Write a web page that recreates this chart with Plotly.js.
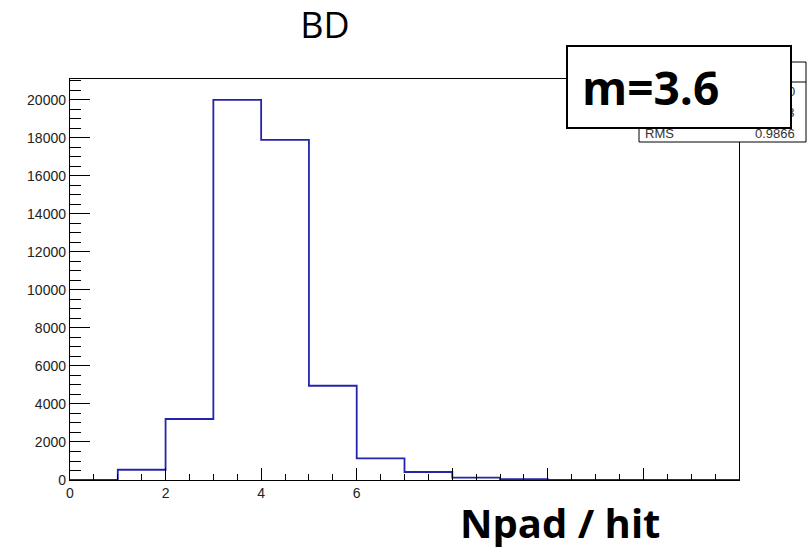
<!DOCTYPE html>
<html>
<head>
<meta charset="utf-8">
<script src="https://cdn.plot.ly/plotly-3.0.1.min.js"></script>
<style>html,body{margin:0;padding:0;background:#fff;}#chart{width:809px;height:554px;}</style>
</head>
<body>
<div id="chart"></div>
<script>
// Histogram data (bin lower edges, bin width 1)
const binLow = [0, 1, 2, 3, 4, 5, 6, 7, 8, 9, 10, 11, 12, 13];
const counts = [0, 540, 3210, 20000, 17900, 4960, 1140, 420, 120, 40, 0, 0, 0, 0];
const xTickVals = [0, 2, 4, 6, 8, 10, 12, 14];
const xTickText = ['0', '2', '4', '6', '', '', '', ''];
const yTickVals = [0, 2000, 4000, 6000, 8000, 10000, 12000, 14000, 16000, 18000, 20000];
const yTickText = ['0', '2000', '4000', '6000', '8000', '10000', '12000', '14000', '16000', '18000', '20000'];
const statValues = ['48330', '3.583', '0.9866'];
const rmsLabel = 'RMS';
const histTitle = 'BD';
const xTitle = 'Npad / hit';
const meanNote = 'm=3.6';

const xs = binLow.concat([binLow[binLow.length - 1] + 1]);
const ys = counts.concat([counts[counts.length - 1]]);

// pixel -> paper helpers (plot area: x 70..739, y 79..480)
const L = 70, R = 739, T = 79, B = 480;
const px = p => (p - L) / (R - L);
const py = p => (B - p) / (B - T);

const trace = {
  x: xs, y: ys, type: 'scatter', mode: 'lines',
  line: {shape: 'hv', color: '#2424aa', width: 1.8},
  hoverinfo: 'skip', showlegend: false
};

const statFont = {family: 'Liberation Sans', size: 13, color: '#333'};
const annotations = [];
// stats box texts (mostly hidden behind the m= box)
const rowY = [92, 112, 133];
for (let i = 0; i < statValues.length; i++) {
  annotations.push({xref: 'paper', yref: 'paper', x: px(797), y: py(rowY[i]), xanchor: 'right', yanchor: 'middle',
    text: statValues[i], showarrow: false, font: statFont});
}
annotations.push({xref: 'paper', yref: 'paper', x: px(643), y: py(133), xanchor: 'left', yanchor: 'middle',
  text: rmsLabel, showarrow: false, font: statFont});
// m= box
annotations.push({xref: 'paper', yref: 'paper', x: px(679), y: py(87), xanchor: 'center', yanchor: 'middle',
  text: '&nbsp;', showarrow: false, width: 222, height: 80, bgcolor: '#fff', bordercolor: '#000', borderwidth: 2, borderpad: 0});
annotations.push({xref: 'paper', yref: 'paper', x: px(580), y: py(87), xanchor: 'left', yanchor: 'middle',
  text: '<b>' + meanNote + '</b>', showarrow: false, font: {family: 'Open Sans', size: 46, color: '#000'}});
// x axis title
annotations.push({xref: 'paper', yref: 'paper', x: px(560), y: py(522), xanchor: 'center', yanchor: 'middle',
  text: '<b>' + xTitle + '</b>', showarrow: false, font: {family: 'Open Sans', size: 40, color: '#000'}});

const layout = {
  width: 809, height: 554,
  margin: {l: L, r: 809 - R, t: T, b: 554 - B, pad: 0},
  paper_bgcolor: '#fff', plot_bgcolor: '#fff',
  title: {text: histTitle, x: 325 / 809, xref: 'container', xanchor: 'center', y: 1 - 25 / 554, yref: 'container', yanchor: 'middle',
    font: {family: 'Open Sans', size: 36, color: '#000'}},
  xaxis: {
    range: [0, 14], tickmode: 'array', tickvals: xTickVals, ticktext: xTickText,
    ticks: 'inside', ticklen: 12, tickwidth: 1, tickcolor: '#000',
    minor: {dtick: 0.5, ticks: 'inside', ticklen: 6, tickwidth: 1, tickcolor: '#000', showgrid: false},
    showline: true, linecolor: '#000', linewidth: 1.2, mirror: true,
    showgrid: false, zeroline: false,
    tickfont: {family: 'Liberation Sans', size: 14, color: '#222'}
  },
  yaxis: {
    range: [0, 21100], tickmode: 'array', tickvals: yTickVals, ticktext: yTickText,
    ticks: 'inside', ticklen: 20, tickwidth: 1, tickcolor: '#000',
    minor: {dtick: 500, ticks: 'inside', ticklen: 11, tickwidth: 1, tickcolor: '#000', showgrid: false},
    showline: true, linecolor: '#000', linewidth: 1.2, mirror: true,
    showgrid: false, zeroline: false,
    tickfont: {family: 'Liberation Sans', size: 14, color: '#222'}
  },
  shapes: [
    {type: 'rect', xref: 'paper', yref: 'paper', x0: px(639), x1: px(806), y0: py(142), y1: py(62),
      line: {color: '#000', width: 1}, fillcolor: '#fff', layer: 'above'},
    {type: 'line', xref: 'paper', yref: 'paper', x0: px(639), x1: px(806), y0: py(82), y1: py(82),
      line: {color: '#000', width: 1}, layer: 'above'}
  ],
  annotations: annotations
};

Plotly.newPlot('chart', [trace], layout, {displayModeBar: false, staticPlot: true});
</script>
</body>
</html>
